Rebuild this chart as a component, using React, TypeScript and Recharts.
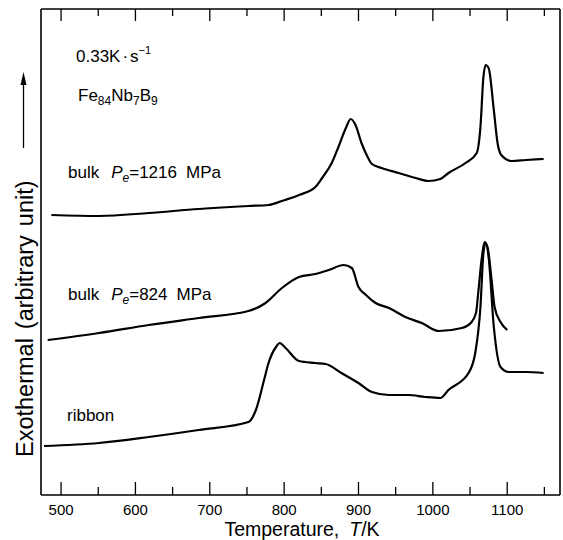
import { LineChart, Line, XAxis, YAxis } from "recharts";

const T_MIN = 473;
const T_MAX = 1171;
const Y_MAX = 486;

// 50 K steps, the hundreds get a number
const T_TICKS = [500, 550, 600, 650, 700, 750, 800, 850, 900, 950, 1000, 1050, 1100, 1150];

// bulk, Pe = 1216 MPa
const BULK1216_T = [487, 551, 618, 685, 752, 779, 797, 820, 842, 851, 864, 873, 883, 889.5, 896, 904, 911, 918, 931, 954, 977, 994, 1010, 1021, 1044, 1059, 1064, 1068, 1071, 1075, 1082, 1087, 1092, 1106, 1125, 1149];
const BULK1216_Y = [280, 279, 282, 286, 289, 290, 294, 300, 308, 317, 332, 348, 367, 376, 370, 352, 340, 331, 327, 322, 317, 314, 316, 322, 332, 342, 368, 418, 430, 427, 385, 352, 340, 334, 335, 336];

// bulk, Pe = 824 MPa
const BULK824_T = [482, 551, 618, 685, 752, 775, 797, 820, 842, 860, 880, 891, 900, 910, 923, 941, 963, 985, 1008, 1039, 1051, 1058, 1061, 1065.5, 1069.5, 1073.5, 1079, 1083, 1091, 1100];
const BULK824_Y = [155, 162, 170, 177, 184, 192, 207, 218, 221, 225, 230, 227, 208, 200, 192, 187, 178, 172, 164, 167, 172, 182, 202, 235, 253, 248, 215, 188, 173, 165];

// melt-spun ribbon
const RIBBON_T = [477, 551, 618, 685, 752, 762, 773, 779, 789, 794, 802, 820, 842, 856, 877, 900, 918, 941, 967, 990, 1010, 1021, 1048, 1057, 1064, 1068, 1071, 1075, 1082, 1091, 1102, 1125, 1149];
const RIBBON_Y = [49, 52, 58, 65, 73, 85, 115, 132, 148, 152, 147, 134, 132, 131, 122, 112, 103, 100, 100, 98, 97, 105, 122, 142, 188, 242, 252, 238, 168, 128, 123, 123, 122];

const FONT = "'Liberation Sans', Arial, Helvetica, sans-serif";
const FRAME = { stroke: "#000", strokeWidth: 1.6 };
const MARGIN = { top: 8, right: 2, bottom: 0, left: 40 };
const PLOT_TOP = MARGIN.top + 1;

const toRows = (t: number[], y: number[]) => t.map((v, i) => ({ t: v, y: y[i] }));

// inward ticks on the bottom edge, mirrored on the top edge
function FrameTick(props: any) {
  const { x, y, payload } = props;
  const major = payload.value % 100 === 0;
  return (
    <g>
      <line x1={x} x2={x} y1={y} y2={y - (major ? 13 : 8)} stroke="#000" strokeWidth={1.3} />
      <line x1={x} x2={x} y1={PLOT_TOP} y2={PLOT_TOP + (major ? 12 : 7)} stroke="#000" strokeWidth={1.3} />
      {major && (
        <text x={x} y={y + 20} textAnchor="middle" fontSize={15} fontFamily={FONT} fill="#000">
          {payload.value}
        </text>
      )}
    </g>
  );
}

function BulkLabel({ x, y, p }: { x: number; y: number; p: string }) {
  return (
    <text x={x} y={y} fontSize={17} fontFamily={FONT} fill="#000">
      bulk
      <tspan dx={12} fontStyle="italic">P</tspan>
      <tspan fontSize={12} fontStyle="italic" dy={4}>e</tspan>
      <tspan dy={-4}>={p}</tspan>
      <tspan dx={9}>MPa</tspan>
    </text>
  );
}

export default function App() {
  return (
    <div style={{ position: "absolute", left: 0, top: 0, width: 563, height: 540, background: "#fff" }}>
      <LineChart width={563} height={540} margin={MARGIN}>
        <XAxis
          dataKey="t"
          type="number"
          domain={[T_MIN, T_MAX]}
          ticks={T_TICKS}
          interval={0}
          height={45}
          tickSize={0}
          tickMargin={0}
          axisLine={FRAME}
          tick={<FrameTick />}
          allowDataOverflow
        />
        <XAxis
          xAxisId="top"
          orientation="top"
          dataKey="t"
          type="number"
          domain={[T_MIN, T_MAX]}
          height={1}
          tick={false}
          tickLine={false}
          axisLine={FRAME}
          allowDataOverflow
        />
        <YAxis type="number" domain={[0, Y_MAX]} width={1} tick={false} tickLine={false} axisLine={FRAME} allowDataOverflow />
        <YAxis
          yAxisId="right"
          orientation="right"
          type="number"
          domain={[0, Y_MAX]}
          width={1}
          tick={false}
          tickLine={false}
          axisLine={FRAME}
          allowDataOverflow
        />
        <Line data={toRows(BULK1216_T, BULK1216_Y)} dataKey="y" type="monotone" stroke="#000" strokeWidth={2.2} dot={false} isAnimationActive={false} />
        <Line data={toRows(BULK824_T, BULK824_Y)} dataKey="y" type="monotone" stroke="#000" strokeWidth={2.2} dot={false} isAnimationActive={false} />
        <Line data={toRows(RIBBON_T, RIBBON_Y)} dataKey="y" type="monotone" stroke="#000" strokeWidth={2.2} dot={false} isAnimationActive={false} />
      </LineChart>

      <svg width={563} height={540} style={{ position: "absolute", left: 0, top: 0, pointerEvents: "none" }}>
        <text x={76} y={62} fontSize={17} fontFamily={FONT} fill="#000">
          0.33K
          <tspan dx={2}>·</tspan>
          <tspan dx={2}>s</tspan>
          <tspan dy={-8} fontSize={11}>−1</tspan>
        </text>
        <text x={78} y={101} fontSize={17} fontFamily={FONT} fill="#000">
          Fe<tspan fontSize={12} dy={4}>84</tspan>
          <tspan dy={-4}>Nb</tspan>
          <tspan fontSize={12} dy={4}>7</tspan>
          <tspan dy={-4}>B</tspan>
          <tspan fontSize={12} dy={4}>9</tspan>
        </text>
        <BulkLabel x={68} y={178} p="1216" />
        <BulkLabel x={68} y={300} p="824" />
        <text x={67} y={421} fontSize={17} fontFamily={FONT} fill="#000">ribbon</text>

        <text x={302} y={535.5} textAnchor="middle" fontSize={19.5} fontFamily={FONT} fill="#000">
          Temperature,
          <tspan dx={10} fontStyle="italic">T</tspan>
          <tspan>/K</tspan>
        </text>

        <text
          x={33}
          y={457}
          transform="rotate(-90 33 457)"
          fontSize={23.5}
          fontFamily={FONT}
          fill="#000"
        >
          Exothermal
          <tspan dx={9}>(arbitrary</tspan>
          <tspan dx={9}>unit)</tspan>
        </text>
        <line x1={23.5} x2={23.5} y1={148} y2={82} stroke="#000" strokeWidth={1.3} />
        <polygon points="23.5,72 20.5,85 26.5,85" fill="#000" />
      </svg>
    </div>
  );
}
